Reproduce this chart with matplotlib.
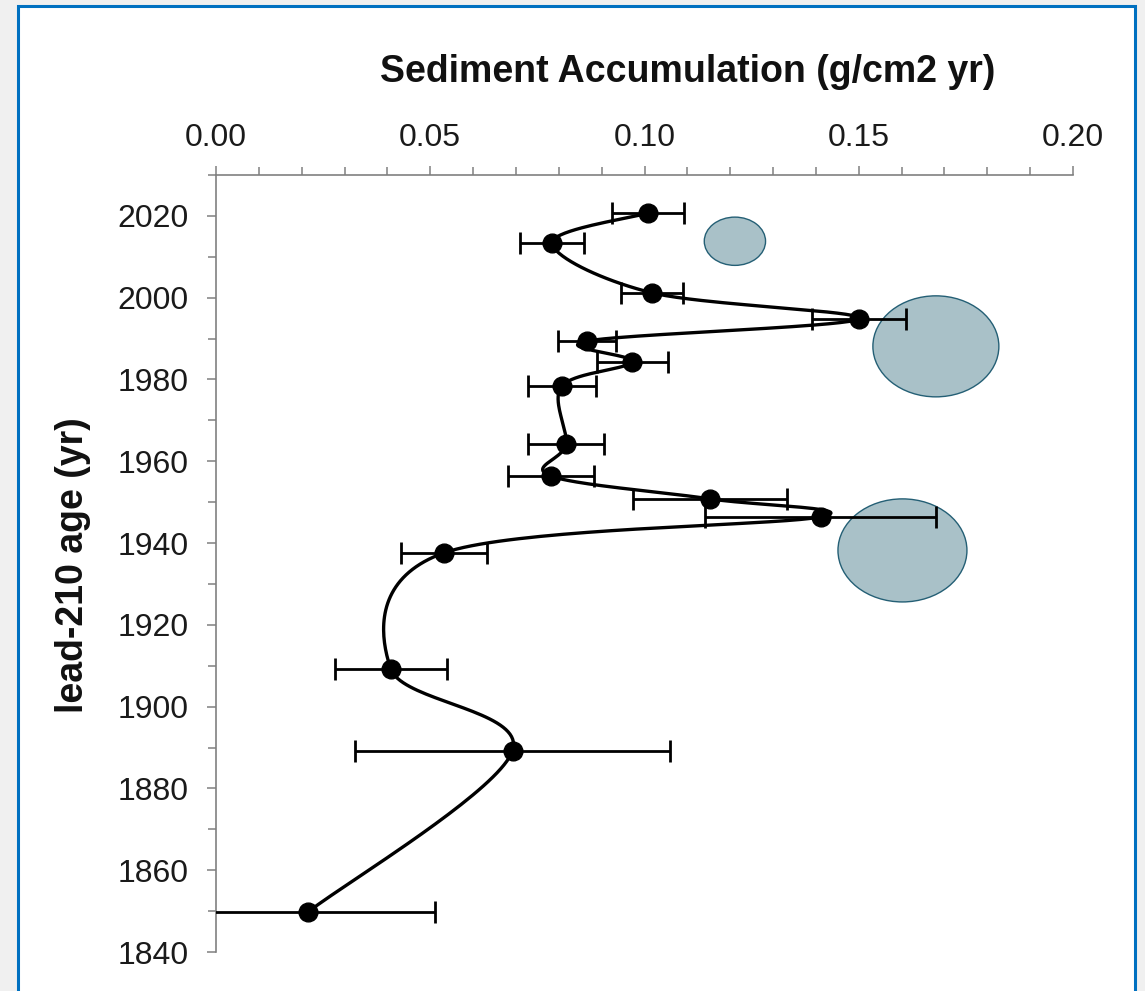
import numpy as np
import matplotlib
matplotlib.use('Agg')
import matplotlib.pyplot as plt
from matplotlib.patches import Ellipse, Rectangle
from matplotlib.ticker import MultipleLocator, FormatStrFormatter

plt.rcParams['font.family'] = ['Liberation Sans', 'DejaVu Sans']

# ---- data ----
year = [2020.7, 2013.4, 2001.2, 1994.8, 1989.4, 1984.3, 1978.4, 1964.2,
        1956.4, 1950.8, 1946.4, 1937.6, 1909.2, 1889.2, 1849.8]
accum = [0.1008, 0.0784, 0.1017, 0.1500, 0.0866, 0.0971, 0.0807, 0.0817,
         0.0781, 0.1153, 0.1411, 0.0532, 0.0408, 0.0692, 0.0215]
accum_err = [0.0085, 0.0075, 0.0072, 0.0110, 0.0068, 0.0083, 0.0080, 0.0088,
             0.0100, 0.0180, 0.0270, 0.0100, 0.0130, 0.0367, 0.0296]

# highlight ellipses (annotation shapes)
ell_x = [0.1211, 0.1680, 0.1602]
ell_y = [2013.8, 1988.1, 1938.2]
ell_w = [0.0143, 0.0294, 0.0301]
ell_h = [11.8, 24.7, 25.2]

x_label = 'Sediment Accumulation (g/cm2 yr)'
y_label = 'lead-210 age (yr)'

W, H, DPI = 1145, 991, 100
fig = plt.figure(figsize=(W / DPI, H / DPI), dpi=DPI)
fig.patch.set_facecolor('#f0f0f0')

# white panel with blue frame
frame = Rectangle((17.5 / W, -0.05), (1135 - 17.5) / W, 1 - 6 / H + 0.05,
                  transform=fig.transFigure, facecolor='white',
                  edgecolor='#0070c0', linewidth=2.2, zorder=0)
fig.add_artist(frame)

L, R, T, B = 216, 1073, 175, 952
ax = fig.add_axes([L / W, 1 - B / H, (R - L) / W, (B - T) / H])
ax.set_facecolor('none')
ax.set_xlim(0, 0.20)
ax.set_ylim(1840, 2030)

gray = '#808080'
for s in ['right', 'bottom']:
    ax.spines[s].set_visible(False)
for s in ['top', 'left']:
    ax.spines[s].set_color(gray)
    ax.spines[s].set_linewidth(1.2)

ax.xaxis.set_major_locator(MultipleLocator(0.05))
ax.xaxis.set_minor_locator(MultipleLocator(0.01))
ax.xaxis.set_major_formatter(FormatStrFormatter('%.2f'))
ax.yaxis.set_major_locator(MultipleLocator(20))
ax.yaxis.set_minor_locator(MultipleLocator(10))

ax.tick_params(axis='x', which='both', top=True, bottom=False, labeltop=True,
               labelbottom=False, direction='out', color=gray, width=1.1)
ax.tick_params(axis='y', which='both', left=True, right=False, direction='out',
               color=gray, width=1.1)
ax.tick_params(which='major', length=6.5)
ax.tick_params(which='minor', length=6.0)
ax.tick_params(axis='x', which='major', labelsize=23, pad=9.5, labelcolor='#1a1a1a')
ax.tick_params(axis='y', which='major', labelsize=23, pad=13, labelcolor='#1a1a1a')

# ellipses
for cx, cy, w, h in zip(ell_x, ell_y, ell_w, ell_h):
    ax.add_patch(Ellipse((cx, cy), w, h, facecolor='#a9c1c8',
                         edgecolor='#245f75', linewidth=1.0, zorder=2))

# error bars
ax.errorbar(accum, year, xerr=accum_err, fmt='none', ecolor='black',
            elinewidth=2.0, capsize=8, capthick=2.0, zorder=3)


def smooth_curve(ax, xs, ys, n=40):
    pts = ax.transData.transform(np.column_stack([xs, ys]))
    m = len(pts)
    out = []
    t = np.linspace(0, 1, n)[:, None]
    for i in range(m - 1):
        p0 = pts[i - 1] if i > 0 else pts[i]
        p1 = pts[i]
        p2 = pts[i + 1]
        p3 = pts[i + 2] if i + 2 < m else pts[i + 1]
        c1 = p1 + (p2 - p0) / 6.0
        c2 = p2 - (p3 - p1) / 6.0
        seg = ((1 - t) ** 3) * p1 + 3 * ((1 - t) ** 2) * t * c1 + \
            3 * (1 - t) * t ** 2 * c2 + t ** 3 * p2
        if i > 0:
            seg = seg[1:]
        out.append(seg)
    out = np.vstack(out)
    return ax.transData.inverted().transform(out)


curve = smooth_curve(ax, accum, year)
ax.plot(curve[:, 0], curve[:, 1], color='black', linewidth=2.4, zorder=3)
ax.plot(accum, year, 'o', color='black', markersize=13.5, zorder=4)

# titles
fig.text(688 / W, 1 - 72 / H, x_label, ha='center', va='center',
         fontsize=27, fontweight='bold', color='#111111')
fig.text(73 / W, 1 - 565 / H, y_label, ha='center', va='center',
         rotation=90, fontsize=27, fontweight='bold', color='#111111')

fig.savefig('out.png', dpi=DPI, facecolor=fig.get_facecolor())
